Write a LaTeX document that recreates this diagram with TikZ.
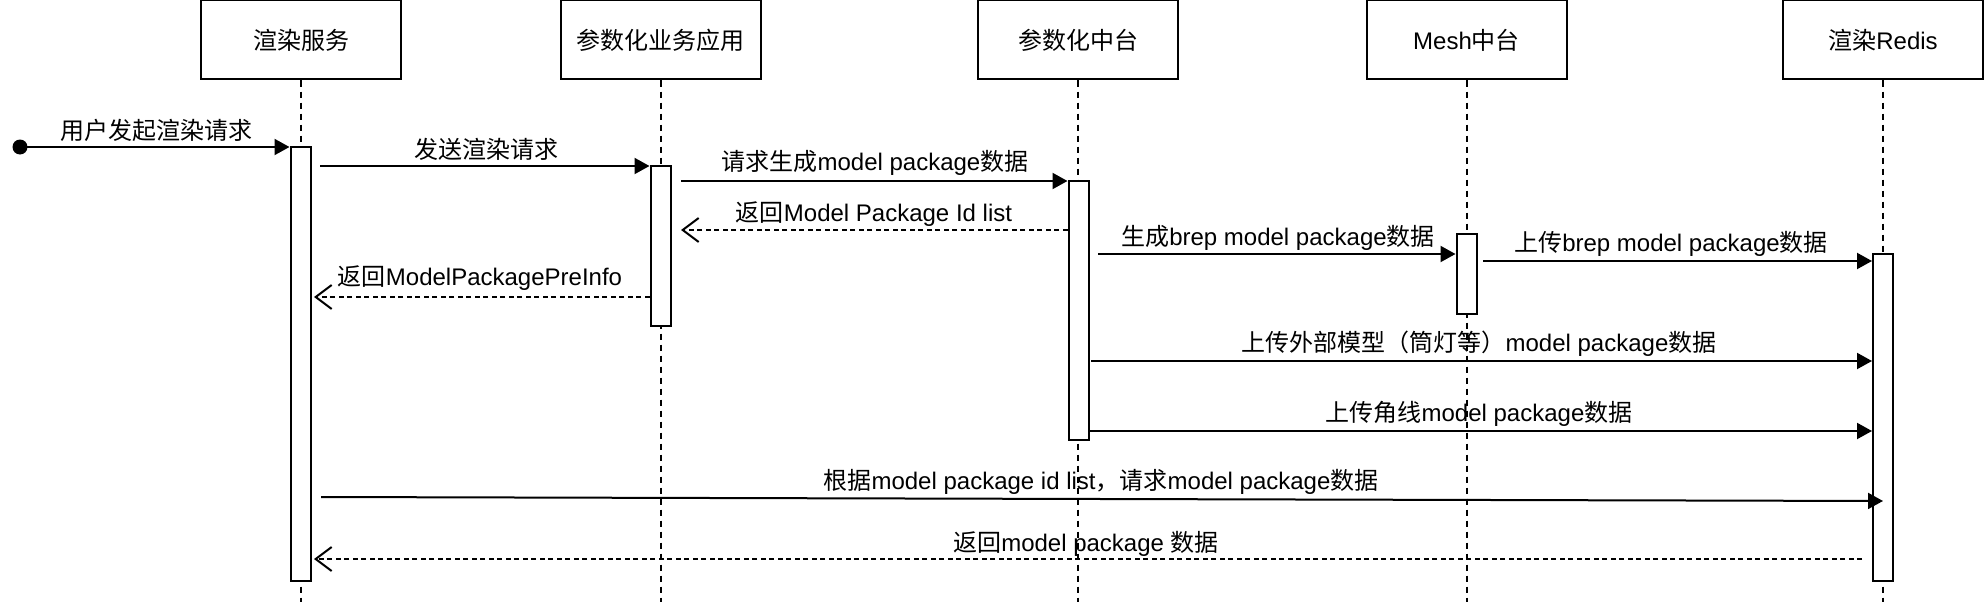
\documentclass[tikz,border=0pt]{standalone}
\usepackage{fontspec}
\setmainfont{Liberation Sans}
\newfontfamily\cjk{Noto Sans CJK SC}
\usetikzlibrary{arrows.meta}
\begin{document}
\begin{tikzpicture}[x=1pt,y=-1pt,
  font=\fontsize{24pt}{28pt}\selectfont,
  actor/.style={draw, line width=2pt, minimum width=200pt, minimum height=79pt, inner sep=0pt},
  actbar/.style={draw, fill=white, line width=2pt, minimum width=20pt, inner sep=0pt},
  lifeline/.style={line width=2pt, dash pattern=on 6pt off 5pt},
  msg/.style={line width=2pt, -{Triangle[length=15pt,width=16pt]}},
  ret/.style={line width=2pt, dash pattern=on 5pt off 3.5pt, -{Straight Barb[length=16pt,width=24pt,line width=2pt]}},
  lbl/.style={inner sep=0pt}]
\useasboundingbox (0,0) rectangle (1984,602);
% actors
\node[actor] (p1) at (301,40) {{\cjk 渲染服务}};
\node[actor] (p2) at (660.5,40) {{\cjk 参数化业务应用}};
\node[actor] (p3) at (1078,40) {{\cjk 参数化中台}};
\node[actor] (p4) at (1466.5,40) {Mesh{\cjk 中台}};
\node[actor] (p5) at (1883,40) {{\cjk 渲染}Redis};
% lifeline ends
\coordinate (e1) at (301,602);
\coordinate (e2) at (660.5,602);
\coordinate (e3) at (1078,602);
\coordinate (e4) at (1466.5,602);
\coordinate (e5) at (1883,602);
\draw[lifeline] (p1.south) -- (e1);
\draw[lifeline] (p2.south) -- (e2);
\draw[lifeline] (p3.south) -- (e3);
\draw[lifeline] (p4.south) -- (e4);
\draw[lifeline] (p5.south) -- (e5);
% activation bars
\node[actbar, minimum height=434pt] (a1) at (300.5,364) {};
\node[actbar, minimum height=160pt] (a2) at (660.5,246) {};
\node[actbar, minimum height=259pt] (a3) at (1078.5,310.5) {};
\node[actbar, minimum height=80pt] (a4) at (1466.5,274) {};
\node[actbar, minimum height=327pt] (a5) at (1883,417.5) {};
% messages
\node[circle, fill, inner sep=0pt, minimum size=15pt] (s) at (20,147) {};
\draw[msg] (s.center) -- (a1.west |- s.center);
\node[lbl] at (156,130) {{\cjk 用户发起渲染请求}};

\coordinate (m2) at (320,166);
\draw[msg] (m2) -- (a2.west |- m2);
\node[lbl] at (486,149) {{\cjk 发送渲染请求}};

\coordinate (m3) at (681,181);
\draw[msg] (m3) -- (a3.west |- m3);
\node[lbl] at (875,163) {{\cjk 请求生成}model package{\cjk 数据}};

\coordinate (m4) at (681,230);
\draw[ret] (a3.west |- m4) -- (m4);
\node[lbl] at (874,214) {{\cjk 返回}Model Package Id list};

\coordinate (m5) at (1098,254);
\draw[msg] (m5) -- (a4.west |- m5);
\node[lbl] at (1278,238) {{\cjk 生成}brep model package{\cjk 数据}};

\coordinate (m6) at (1483,261);
\draw[msg] (m6) -- (a5.west |- m6);
\node[lbl] at (1671,244) {{\cjk 上传}brep model package{\cjk 数据}};

\coordinate (m7) at (314,297);
\draw[ret] (a2.west |- m7) -- (m7);
\node[lbl] at (480,278) {{\cjk 返回}ModelPackagePreInfo};

\coordinate (m8) at (1091,361);
\draw[msg] (m8) -- (a5.west |- m8);
\node[lbl] at (1479,344) {{\cjk 上传外部模型（筒灯等）}model package{\cjk 数据}};

\coordinate (m9) at (1088,431);
\draw[msg] (a3.east |- m9) -- (a5.west |- m9);
\node[lbl] at (1479,414) {{\cjk 上传角线}model package{\cjk 数据}};

\coordinate (m10s) at (321,497);
\coordinate (m10e) at (1883,501);
\draw[msg] (m10s) -- (m10e);
\node[lbl] at (1101,482) {{\cjk 根据}model package id list{\cjk ，请求}model package{\cjk 数据}};

\coordinate (m11s) at (1862,559);
\coordinate (m11e) at (314,559);
\draw[ret] (m11s) -- (m11e);
\node[lbl] at (1086,544) {{\cjk 返回}model package {\cjk 数据}};
\end{tikzpicture}
\end{document}
